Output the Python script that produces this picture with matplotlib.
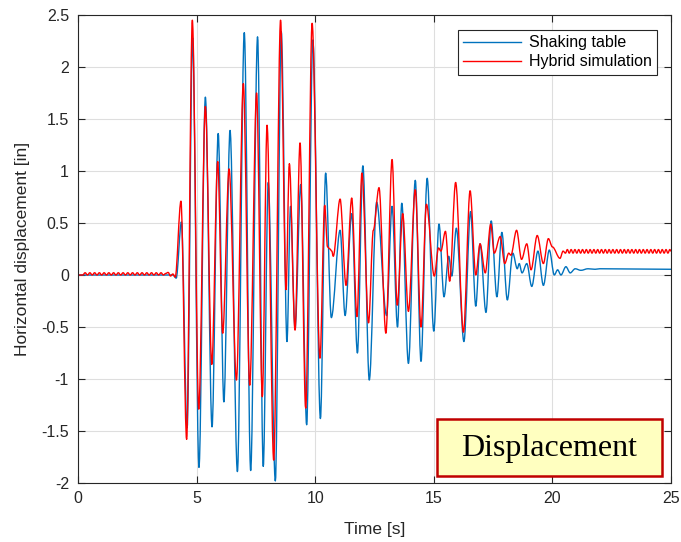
import matplotlib
matplotlib.use("Agg")
import matplotlib.pyplot as plt
from matplotlib.path import Path
from matplotlib.patches import PathPatch, Rectangle
from matplotlib.lines import Line2D
from matplotlib.ticker import FormatStrFormatter

# ---- data: extrema of each trace (time [s], disp [in]) ----
table_t = [0.0, 4.0, 4.14, 4.36, 4.60, 4.83, 5.10, 5.37, 5.65, 5.91, 6.15, 6.41,
           6.72, 7.01, 7.28, 7.57, 7.81, 8.02, 8.32, 8.57, 8.81, 8.96, 9.15,
           9.39, 9.64, 9.90, 10.22, 10.44, 10.68, 11.05, 11.26, 11.54, 11.78,
           12.01, 12.28, 12.59, 13.01, 13.24, 13.47, 13.65, 13.93, 14.22, 14.46,
           14.72, 15.00, 15.22, 15.43, 15.63, 15.76, 15.95, 16.27, 16.55, 16.77,
           16.95, 17.20, 17.42, 17.66, 17.87, 18.10, 18.33, 18.52, 18.60, 18.72,
           18.92, 19.13, 19.39, 19.62, 19.87, 20.08, 20.22, 20.36, 20.57, 20.75,
           20.96, 21.20, 21.50, 21.80, 22.00, 25.0]
table_v = [0.0, 0.0, -0.03, 0.51, -1.47, 2.28, -1.85, 1.71, -1.46, 1.36, -1.22, 1.39,
           -1.89, 2.33, -1.88, 2.29, -1.84, 0.89, -1.98, 2.34, -0.64, 0.66, -0.52,
           0.87, -1.44, 2.26, -1.38, 0.98, -0.41, 0.43, -0.39, 0.59, -0.75,
           1.05, -1.01, 0.70, -0.39, 0.66, -0.50, 0.69, -0.85, 0.91, -0.83,
           0.93, -0.54, 0.49, -0.21, 0.18, -0.01, 0.45, -0.64, 0.61, -0.30,
           0.30, -0.36, 0.52, -0.21, 0.41, -0.24, 0.21, 0.06, 0.11, 0.02,
           0.11, -0.11, 0.23, -0.10, 0.24, 0.00, 0.05, 0.00, 0.08, 0.02,
           0.06, 0.045, 0.06, 0.055, 0.06, 0.055]

hybrid_t = [0.0, 0.2, 0.3, 0.4, 0.5, 0.6, 0.7, 0.8, 0.9, 1.0, 1.1, 1.2, 1.3, 1.4,
            1.5, 1.6, 1.7, 1.8, 1.9, 2.0, 2.1, 2.2, 2.3, 2.4, 2.5, 2.6, 2.7, 2.8,
            2.9, 3.0, 3.1, 3.2, 3.3, 3.4, 3.5, 3.6, 3.7, 3.8, 3.9, 4.0, 4.1,
            4.34, 4.58, 4.82, 5.09, 5.37, 5.64, 5.89, 6.10, 6.37, 6.68, 6.97,
            7.24, 7.53, 7.77, 7.97, 8.25, 8.54, 8.77, 8.91, 9.15, 9.36, 9.60,
            9.87, 10.20, 10.40, 10.52, 10.62, 10.70, 10.76, 11.05, 11.30, 11.54,
            11.76, 11.97, 12.25, 12.45, 12.69, 12.98, 13.24, 13.46, 13.69, 13.93,
            14.22, 14.46, 14.69, 15.02, 15.20, 15.30, 15.49, 15.67, 15.92, 16.25,
            16.53, 16.77, 16.95, 17.17, 17.40, 17.55, 17.80, 17.99, 18.16, 18.25,
            18.49, 18.70, 18.92, 19.10, 19.36, 19.62, 19.83, 20.00, 20.32, 20.45,
            20.55, 20.63, 20.71, 20.79, 20.87, 20.95, 21.03, 21.11, 21.19, 21.27,
            21.35, 21.43, 21.51, 21.59, 21.67, 21.75, 21.83, 21.91, 21.99, 22.07,
            22.15, 22.23, 22.31, 22.39, 22.47, 22.55, 22.63, 22.71, 22.79, 22.87,
            22.95, 23.03, 23.11, 23.19, 23.27, 23.35, 23.43, 23.51, 23.59, 23.67,
            23.75, 23.83, 23.91, 23.99, 24.07, 24.15, 24.23, 24.31, 24.39, 24.47,
            24.55, 24.63, 24.71, 24.79, 24.87, 24.95, 25.0]
hybrid_v = [0.0, 0.0, 0.022, 0.0, 0.022, 0.0, 0.022, 0.0, 0.022, 0.0, 0.022, 0.0,
            0.022, 0.0, 0.022, 0.0, 0.022, 0.0, 0.022, 0.0, 0.022, 0.0, 0.022,
            0.0, 0.022, 0.0, 0.022, 0.0, 0.022, 0.0, 0.022, 0.0, 0.022, 0.0,
            0.022, 0.0, 0.015, 0.025, -0.01, 0.01, -0.02,
            0.71, -1.58, 2.45, -1.29, 1.62, -0.86, 1.09, -0.56, 1.02, -1.01, 1.84,
            -1.06, 1.75, -1.17, 1.44, -1.78, 2.45, -0.14, 1.07, -0.53, 1.27, -1.28,
            2.42, -0.80, 0.67, 0.27, 0.25, 0.23, 0.18, 0.73, -0.10, 0.74,
            -0.40, 0.98, -0.46, 0.43, 0.84, -0.56, 1.11, -0.29, 0.59, -0.35,
            0.82, -0.50, 0.68, -0.01, 0.26, 0.23, 0.42, -0.06, 0.89, -0.55,
            0.81, 0.00, 0.30, 0.02, 0.49, 0.21, 0.37, 0.11, 0.21, 0.19,
            0.43, 0.15, 0.30, 0.05, 0.38, 0.11, 0.35, 0.27, 0.16, 0.23,
            0.21, 0.245, 0.21, 0.245, 0.21, 0.245, 0.21, 0.245, 0.21, 0.245,
            0.21, 0.245, 0.21, 0.245, 0.21, 0.245, 0.21, 0.245, 0.21, 0.245,
            0.21, 0.245, 0.21, 0.245, 0.21, 0.245, 0.21, 0.245, 0.21, 0.245,
            0.21, 0.245, 0.21, 0.245, 0.21, 0.245, 0.21, 0.245, 0.21, 0.245,
            0.21, 0.245, 0.21, 0.245, 0.21, 0.245, 0.21, 0.245, 0.21, 0.245,
            0.21, 0.245, 0.21, 0.245, 0.21, 0.245, 0.23]

x_ticks = [0, 5, 10, 15, 20, 25]
y_ticks = [-2, -1.5, -1, -0.5, 0, 0.5, 1, 1.5, 2, 2.5]

BLUE = "#0072BD"
RED = "#FF0000"
INK = "#262626"

plt.rcParams["font.family"] = ["Liberation Sans", "DejaVu Sans"]
plt.rcParams["axes.unicode_minus"] = False


def smooth_trace(ts, vs, color):
    # cubic bezier through the extrema, flat tangent at each one
    verts = [(ts[0], vs[0])]
    codes = [Path.MOVETO]
    for i in range(1, len(ts)):
        dt = ts[i] - ts[i - 1]
        verts += [(ts[i - 1] + dt / 3, vs[i - 1]), (ts[i] - dt / 3, vs[i]), (ts[i], vs[i])]
        codes += [Path.CURVE4] * 3
    return PathPatch(Path(verts, codes), fill=False, edgecolor=color, lw=1.0,
                     joinstyle="round", capstyle="round")


fig = plt.figure(figsize=(6.81, 5.42), dpi=100)
ax = fig.add_axes([78 / 681, 59 / 542, 593 / 681, 468 / 542])

ax.add_patch(smooth_trace(table_t, table_v, BLUE))
ax.add_patch(smooth_trace(hybrid_t, hybrid_v, RED))

ax.set_xlim(0, 25)
ax.set_ylim(-2, 2.5)
ax.set_xticks(x_ticks)
ax.set_yticks(y_ticks)
ax.yaxis.set_major_formatter(FormatStrFormatter("%g"))
ax.tick_params(direction="in", top=True, right=True, length=5, width=0.8,
               colors=INK, labelsize=11.5, labelcolor=INK)
ax.tick_params(axis="y", pad=6.5)
ax.tick_params(axis="x", pad=6)
ax.grid(True, color="#dedede", lw=0.8)
ax.set_axisbelow(True)
for s in ax.spines.values():
    s.set_color(INK)
    s.set_linewidth(0.8)

ax.set_xlabel("Time [s]", fontsize=12.5, color=INK, labelpad=11)
ax.set_ylabel("Horizontal displacement [in]", fontsize=12.5, color=INK, labelpad=8)

handles = [Line2D([], [], color=BLUE, lw=1.0), Line2D([], [], color=RED, lw=1.0)]
leg = ax.legend(handles, ["Shaking table", "Hybrid simulation"], loc="upper right",
                bbox_to_anchor=(0.977, 0.969), borderaxespad=0, fontsize=11.5,
                handlelength=3.6, fancybox=False, framealpha=1, edgecolor=INK,
                borderpad=0.35, labelspacing=0.25, handletextpad=0.5)
leg.get_frame().set_linewidth(0.8)

ax.add_patch(Rectangle((0.6054, 0.015), 0.3794, 0.1218, transform=ax.transAxes,
                       facecolor="#FFFFC0", edgecolor="#C00000", lw=1.8, zorder=5))
ax.text(0.795, 0.074, "Displacement", transform=ax.transAxes, ha="center", va="center",
        fontsize=23, family=["Liberation Serif", "DejaVu Serif"], zorder=6)

fig.savefig("out.png", dpi=100)
